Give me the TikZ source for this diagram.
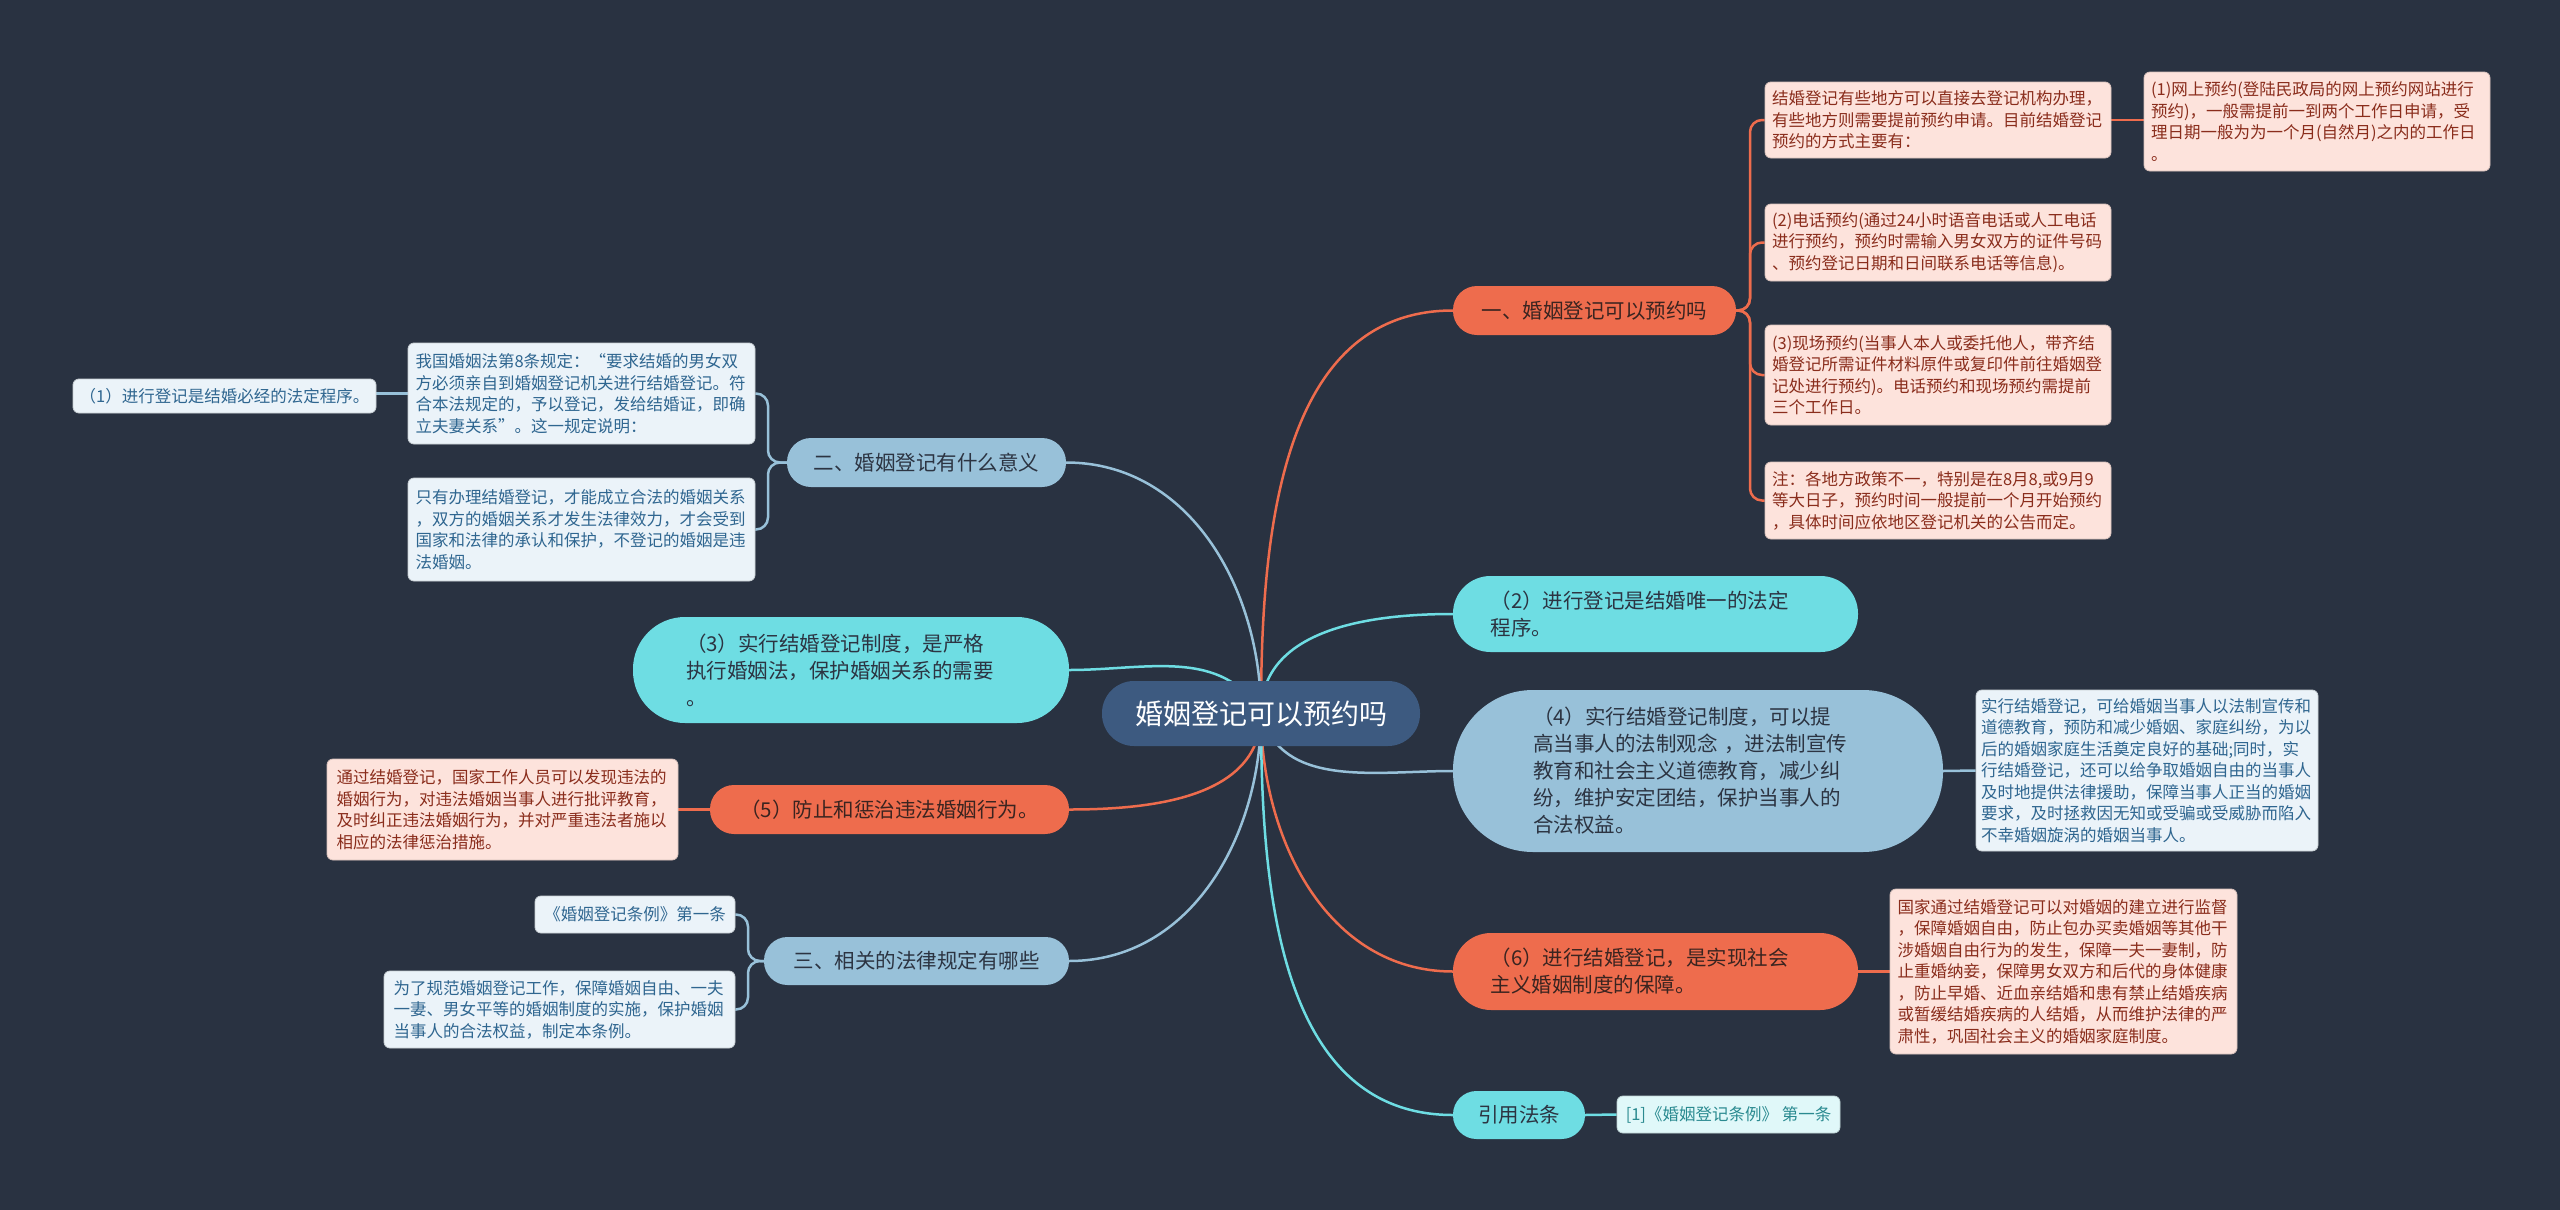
\documentclass[tikz,border=0pt]{standalone}
\usepackage{fontspec}
\setmainfont{Noto Sans CJK SC}
\usetikzlibrary{backgrounds}
\definecolor{bgc}{HTML}{293241}
\definecolor{ctrc}{HTML}{3D5A80}
\definecolor{orc}{HTML}{EE6C4D}
\definecolor{cyc}{HTML}{6EDDE3}
\definecolor{stc}{HTML}{98C1D9}
\definecolor{pinkc}{HTML}{FDE3DC}
\definecolor{lbc}{HTML}{EBF3F9}
\definecolor{lcc}{HTML}{E0F8F9}
\definecolor{pinkt}{HTML}{8A2D1C}
\definecolor{lbt}{HTML}{2F6690}
\definecolor{lct}{HTML}{2A8A90}
\definecolor{dkt}{HTML}{2C3442}
\definecolor{ort}{HTML}{3A2420}
\tikzset{
  mainf/.style={font=\fontsize{20.5}{27}\selectfont},
  childf/.style={font=\fontsize{16.5}{21.5}\selectfont},
  pill/.style={mainf, inner sep=0pt, align=center},
  mlpill/.style={mainf, inner sep=0pt, text width=330pt, align=left},
  orpill/.style={fill=orc, text=ort},
  cypill/.style={fill=cyc, text=dkt},
  stpill/.style={fill=stc, text=dkt},
  cbox/.style={childf, inner sep=0pt, rounded corners=6pt, line width=0.8pt},
  mlbox/.style={cbox, text width=332pt, align=left},
  pinkbox/.style={fill=pinkc, draw=pinkc!85!black, text=pinkt},
  lbbox/.style={fill=lbc, draw=lbc!85!black, text=lbt},
  lcbox/.style={fill=lcc, draw=lcc!85!black, text=lct},
  oline/.style={draw=orc, line width=2.5pt},
  cline/.style={draw=cyc, line width=2.5pt},
  sline/.style={draw=stc, line width=2.5pt},
}
\begin{document}
\begin{tikzpicture}[x=1pt, y=-1pt]
\useasboundingbox (0,0) rectangle (2560,1210);

% central
\node[fill=ctrc, text=white, font=\fontsize{28}{34}\selectfont, minimum width=318pt, minimum height=65pt, rounded corners=32pt, inner sep=0pt] (ctr) at (1261,713.5) {婚姻登记可以预约吗};
\coordinate (hub) at (1261,713.5);

% right main nodes
\node[pill, orpill, minimum width=283pt, minimum height=49pt, rounded corners=24pt] (n1) at (1594.5,310.5) {一、婚姻登记可以预约吗};
\node[mlpill, cypill, minimum width=405pt, minimum height=76pt, rounded corners=37.5pt] (n2) at (1655.5,614) {（2）进行登记是结婚唯一的法定\\程序。};
\node[mlpill, stpill, minimum width=490pt, minimum height=162pt, rounded corners=80pt] (n4) at (1698,771) {（4）实行结婚登记制度，可以提\\高当事人的法制观念 ，进法制宣传\\教育和社会主义道德教育，减少纠\\纷，维护安定团结，保护当事人的\\合法权益。};
\node[mlpill, orpill, minimum width=405pt, minimum height=77pt, rounded corners=38pt] (n6) at (1655.5,971.5) {（6）进行结婚登记，是实现社会\\主义婚姻制度的保障。};
\node[pill, cypill, minimum width=132pt, minimum height=48pt, rounded corners=23.5pt] (n10) at (1519,1115) {引用法条};

% left main nodes
\node[pill, stpill, minimum width=279pt, minimum height=49pt, rounded corners=24pt] (m2) at (926.5,462.5) {二、婚姻登记有什么意义};
\node[mlpill, cypill, minimum width=436pt, minimum height=106pt, rounded corners=52pt] (m3) at (851,670) {（3）实行结婚登记制度，是严格\\执行婚姻法，保护婚姻关系的需要\\。};
\node[pill, orpill, minimum width=359pt, minimum height=49pt, rounded corners=24pt] (m5) at (889.5,809.5) {（5）防止和惩治违法婚姻行为。};
\node[pill, stpill, minimum width=305pt, minimum height=48pt, rounded corners=23.5pt] (m9) at (916.5,961) {三、相关的法律规定有哪些};

% right children
\node[mlbox, pinkbox, minimum width=346pt, minimum height=76pt] (r1a) at (1938,120) {结婚登记有些地方可以直接去登记机构办理，\\有些地方则需要提前预约申请。目前结婚登记\\预约的方式主要有：};
\node[mlbox, pinkbox, minimum width=346pt, minimum height=99pt] (r1a1) at (2317,121.5) {(1)网上预约(登陆民政局的网上预约网站进行\\预约)，一般需提前一到两个工作日申请，受\\理日期一般为为一个月(自然月)之内的工作日\\。};
\node[mlbox, pinkbox, minimum width=346pt, minimum height=77pt] (r1b) at (1938,242.5) {(2)电话预约(通过24小时语音电话或人工电话\\进行预约，预约时需输入男女双方的证件号码\\、预约登记日期和日间联系电话等信息)。};
\node[mlbox, pinkbox, minimum width=346pt, minimum height=100pt] (r1c) at (1938,375) {(3)现场预约(当事人本人或委托他人，带齐结\\婚登记所需证件材料原件或复印件前往婚姻登\\记处进行预约)。电话预约和现场预约需提前\\三个工作日。};
\node[mlbox, pinkbox, minimum width=346pt, minimum height=77pt] (r1d) at (1938,500.5) {注：各地方政策不一，特别是在8月8,或9月9\\等大日子，预约时间一般提前一个月开始预约\\，具体时间应依地区登记机关的公告而定。};
\node[mlbox, lbbox, minimum width=342pt, minimum height=161pt] (r4a) at (2147,770.5) {实行结婚登记，可给婚姻当事人以法制宣传和\\道德教育，预防和减少婚姻、家庭纠纷，为以\\后的婚姻家庭生活奠定良好的基础;同时，实\\行结婚登记，还可以给争取婚姻自由的当事人\\及时地提供法律援助，保障当事人正当的婚姻\\要求，及时拯救因无知或受骗或受威胁而陷入\\不幸婚姻旋涡的婚姻当事人。};
\node[mlbox, pinkbox, minimum width=347pt, minimum height=165pt] (r6a) at (2063.5,971.5) {国家通过结婚登记可以对婚姻的建立进行监督\\，保障婚姻自由，防止包办买卖婚姻等其他干\\涉婚姻自由行为的发生，保障一夫一妻制，防\\止重婚纳妾，保障男女双方和后代的身体健康\\，防止早婚、近血亲结婚和患有禁止结婚疾病\\或暂缓结婚疾病的人结婚，从而维护法律的严\\肃性，巩固社会主义的婚姻家庭制度。};
\node[cbox, lcbox, minimum width=223pt, minimum height=37pt] (r10a) at (1728.5,1114.5) {[1]《婚姻登记条例》 第一条};

% left children
\node[mlbox, lbbox, minimum width=347pt, minimum height=101pt] (l2a) at (581.5,393.5) {我国婚姻法第8条规定：“要求结婚的男女双\\方必须亲自到婚姻登记机关进行结婚登记。符\\合本法规定的，予以登记，发给结婚证，即确\\立夫妻关系”。这一规定说明：};
\node[cbox, lbbox, minimum width=303pt, minimum height=34pt] (l2a1) at (224.5,396) {（1）进行登记是结婚必经的法定程序。};
\node[mlbox, lbbox, minimum width=347pt, minimum height=103pt] (l2b) at (581.5,529.5) {只有办理结婚登记，才能成立合法的婚姻关系\\，双方的婚姻关系才发生法律效力，才会受到\\国家和法律的承认和保护，不登记的婚姻是违\\法婚姻。};
\node[mlbox, pinkbox, minimum width=351pt, minimum height=101pt] (l5a) at (502.5,809.5) {通过结婚登记，国家工作人员可以发现违法的\\婚姻行为，对违法婚姻当事人进行批评教育，\\及时纠正违法婚姻行为，并对严重违法者施以\\相应的法律惩治措施。};
\node[cbox, lbbox, minimum width=200pt, minimum height=37pt] (l9a) at (635,914.5) {《婚姻登记条例》第一条};
\node[mlbox, lbbox, minimum width=351pt, minimum height=77pt] (l9b) at (559.5,1009.5) {为了规范婚姻登记工作，保障婚姻自由、一夫\\一妻、男女平等的婚姻制度的实施，保护婚姻\\当事人的合法权益，制定本条例。};

\coordinate (b1) at (1750,310.5);
\coordinate (b2) at (768,462.5);
\coordinate (b9) at (748,961);

\begin{scope}[on background layer]
\fill[bgc] (0,0) rectangle (2560,1210);
% central curves
\draw[oline] (hub) to[out=90,in=180] (n1.west);
\draw[cline] (hub) to[out=90,in=180] (n2.west);
\draw[sline] (hub) to[out=-75,in=180] (n4.west);
\draw[oline] (hub) to[out=-90,in=180] (n6.west);
\draw[cline] (hub) to[out=-90,in=180] (n10.west);
\draw[sline] (hub) to[out=90,in=0] (m2.east);
\draw[cline] (hub) to[out=120,in=0] (m3.east);
\draw[oline] (hub) to[out=-90,in=0] (m5.east);
\draw[sline] (hub) to[out=-90,in=0] (m9.east);
% brackets and child links
\draw[oline, rounded corners=12pt] (n1.east) -- (b1) |- (r1a.west);
\draw[oline, rounded corners=12pt] (n1.east) -- (b1) |- (r1b.west);
\draw[oline, rounded corners=12pt] (n1.east) -- (b1) |- (r1c.west);
\draw[oline, rounded corners=12pt] (n1.east) -- (b1) |- (r1d.west);
\draw[oline] (r1a.east) -- (r1a.east -| r1a1.west);
\draw[sline] (n4.east) -- (r4a.west);
\draw[oline] (n6.east) -- (r6a.west);
\draw[cline] (n10.east) -- (r10a.west);
\draw[sline, rounded corners=12pt] (m2.west) -- (b2) |- (l2a.east);
\draw[sline, rounded corners=12pt] (m2.west) -- (b2) |- (l2b.east);
\draw[sline] (l2a.west) -- (l2a.west -| l2a1.east);
\draw[oline] (m5.west) -- (l5a.east);
\draw[sline, rounded corners=12pt] (m9.west) -- (b9) |- (l9a.east);
\draw[sline, rounded corners=12pt] (m9.west) -- (b9) |- (l9b.east);
\end{scope}
\end{tikzpicture}
\end{document}
